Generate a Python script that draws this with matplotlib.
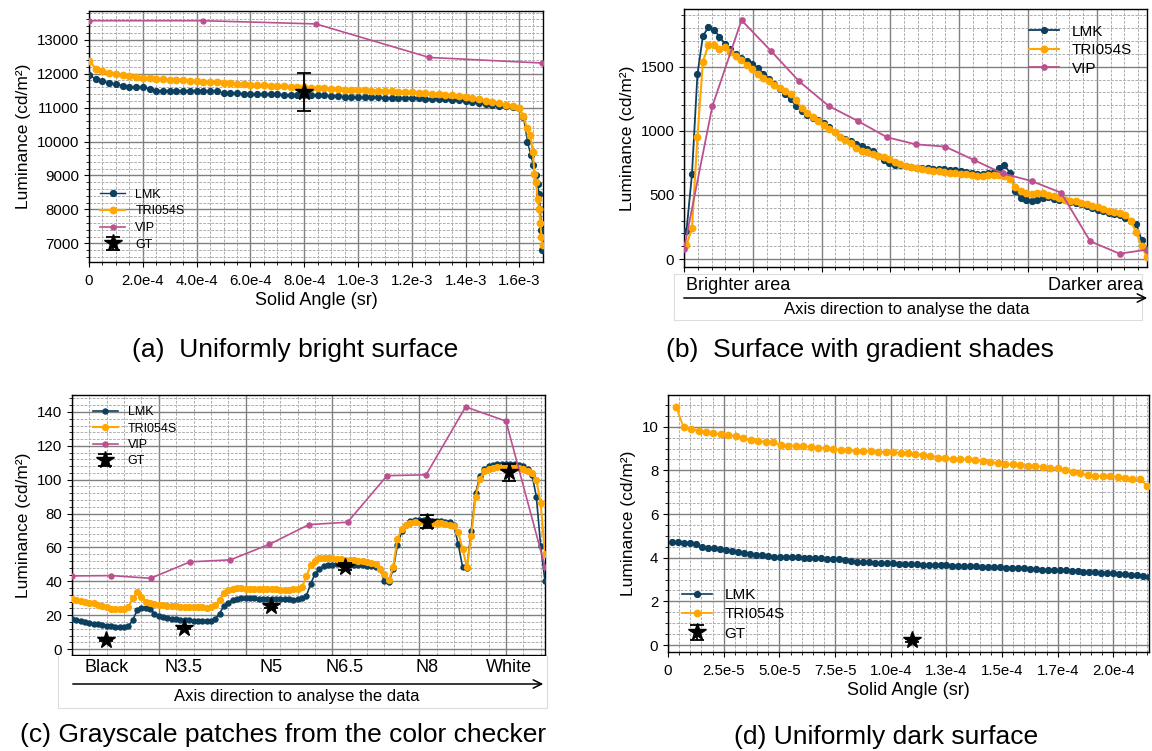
import numpy as np
import matplotlib
matplotlib.use("Agg")
import matplotlib.pyplot as plt
from matplotlib.ticker import MultipleLocator, AutoMinorLocator, NullFormatter
from matplotlib.transforms import blended_transform_factory

plt.rcParams["font.family"] = ["Liberation Sans", "DejaVu Sans"]

# Colours
C_LMK = "#0d3f5e"
C_TRI = "#ffa600"
C_VIP = "#bc5090"
C_GT = "black"

# ---------------- (a) uniformly bright surface (x in 1e-4 sr) ----------------
a_flat_x = np.linspace(0, 16, 65)
a_lmk_flat = [11950, 11850, 11780, 11720, 11700, 11650, 11600, 11600, 11600, 11560,
              11500, 11500, 11500, 11500, 11500, 11500, 11500, 11500, 11490, 11480,
              11430, 11420, 11420, 11410, 11400, 11400, 11400, 11390, 11390, 11380,
              11380, 11380, 11370, 11370, 11370, 11360, 11350, 11340, 11320, 11310,
              11300, 11300, 11300, 11300, 11290, 11290, 11280, 11280, 11270, 11270,
              11260, 11260, 11250, 11240, 11230, 11210, 11190, 11160, 11130, 11100,
              11080, 11060, 11040, 11020, 10980]
a_lmk_drop_x = [16.15, 16.3, 16.42, 16.52, 16.6, 16.68, 16.74, 16.78, 16.82, 16.85]
a_lmk_drop = [10720, 10000, 9600, 9300, 9000, 8750, 8450, 8000, 7400, 6800]
a_tri_flat = [12380, 12150, 12080, 12020, 11990, 11960, 11930, 11900, 11880, 11860,
              11850, 11840, 11820, 11810, 11800, 11790, 11770, 11760, 11750, 11740,
              11720, 11710, 11700, 11690, 11680, 11670, 11660, 11650, 11640, 11630,
              11620, 11610, 11600, 11590, 11580, 11570, 11560, 11545, 11530, 11520,
              11510, 11505, 11500, 11495, 11490, 11480, 11470, 11460, 11450, 11440,
              11420, 11410, 11400, 11380, 11360, 11340, 11310, 11280, 11240, 11200,
              11170, 11130, 11090, 11050, 10980]
a_tri_drop_x = [16.15, 16.28, 16.4, 16.5, 16.56, 16.62, 16.68, 16.74, 16.78, 16.82, 16.86]
a_tri_drop = [10750, 10400, 10200, 9700, 9050, 8800, 8300, 8000, 7600, 7200, 6950]
a_vip_x = [0, 4.24, 8.44, 12.65, 16.85]
a_vip = [13560, 13560, 13465, 12477, 12313]
a_gt_x = [8.0]
a_gt = [11450]
a_gt_err = [[550], [580]]
a_ticks = [0, 2, 4, 6, 8, 10, 12, 14, 16]
a_ticklabels = ["0", "2.0e-4", "4.0e-4", "6.0e-4", "8.0e-4", "1.0e-3", "1.2e-3", "1.4e-3", "1.6e-3"]

# ---------------- (b) gradient shades ----------------
b_x = np.linspace(0.7, 134.6, 85)
b_lmk = [217, 660, 1440, 1740, 1808, 1790, 1735, 1680, 1635, 1600,
         1570, 1543, 1518, 1490, 1447, 1408, 1368, 1328, 1290, 1245,
         1195, 1155, 1122, 1102, 1082, 1060, 1030, 990, 955, 936,
         921, 900, 880, 862, 840, 805, 770, 748, 737, 730,
         724, 717, 713, 710, 707, 705, 703, 700, 697, 692,
         686, 678, 668, 663, 665, 668, 680, 712, 730, 675,
         530, 475, 458, 451, 460, 477, 484, 471, 463, 458,
         446, 440, 427, 414, 400, 385, 375, 362, 354, 340,
         318, 295, 275, 150, 80]
b_tri = [110, 240, 950, 1540, 1670, 1667, 1640, 1655, 1617, 1585,
         1555, 1515, 1480, 1445, 1412, 1390, 1360, 1335, 1310, 1285,
         1240, 1175, 1140, 1105, 1075, 1042, 1015, 990, 955, 930,
         905, 865, 842, 835, 822, 805, 793, 780, 755, 740,
         725, 718, 710, 700, 692, 688, 685, 680, 672, 668,
         666, 662, 654, 646, 644, 652, 655, 652, 645, 625,
         560, 530, 518, 511, 513, 512, 502, 492, 478, 464,
         456, 449, 440, 428, 416, 403, 390, 378, 368, 362,
         345, 300, 210, 100, 15]
b_vip_x = [0, 8.2, 16.7, 25.2, 33.5, 42.0, 50.5, 59.0, 67.3, 75.9, 84.3, 92.6,
           101.1, 109.6, 118.1, 126.6, 134.6]
b_vip = [81, 1190, 1863, 1625, 1385, 1195, 1077, 950, 895, 877, 772, 668,
         608, 517, 138, 42, 73]

# ---------------- (c) grayscale patches ----------------
c_x = np.linspace(0, 109, 110)
c_lmk = [17.5, 17.0, 16.5, 16.0, 15.5, 15.0, 14.6, 14.2, 13.8, 13.4,
         13.0, 12.8, 12.8, 13.5, 17.0, 23.0, 24.2, 24.5, 23.8, 21.0,
         19.5, 19.0, 18.5, 18.0, 17.6, 17.3, 17.1, 17.0, 16.8, 16.7,
         16.6, 16.6, 16.8, 17.8, 21.0, 25.5, 27.5, 29.0, 29.6, 30.0,
         30.0, 30.0, 30.0, 29.8, 29.8, 29.7, 29.6, 29.6, 29.5, 29.4,
         29.3, 29.2, 29.3, 30.0, 31.5, 38.5, 44.5, 47.5, 48.8, 49.5,
         49.8, 50.0, 50.0, 50.0, 49.8, 49.7, 49.6, 49.5, 49.3, 49.0,
         48.5, 47.0, 40.0, 39.5, 47.0, 61.5, 69.5, 73.5, 75.5, 76.5,
         76.5, 76.3, 76.0, 75.8, 75.6, 75.4, 75.3, 74.8, 73.0, 62.0,
         48.5, 48.0, 70.0, 92.0, 102.0, 106.5, 108.0, 108.8, 109.2, 109.3,
         109.3, 109.2, 109.0, 108.8, 108.0, 106.5, 103.0, 90.0, 61.0, 40.0]
c_tri = [29.5, 29.0, 28.5, 28.0, 27.5, 27.0, 26.2, 25.5, 24.6, 23.8,
         23.5, 23.5, 23.7, 25.0, 30.0, 33.5, 31.0, 28.0, 27.0, 26.5,
         26.0, 25.8, 25.5, 25.3, 25.2, 25.1, 25.0, 25.0, 25.0, 24.8,
         24.6, 24.5, 25.0, 26.0, 29.0, 33.0, 35.0, 35.5, 35.8, 35.8,
         35.7, 35.6, 35.5, 35.5, 35.4, 35.3, 35.2, 35.2, 35.1, 35.0,
         35.0, 35.2, 35.5, 36.5, 43.0, 49.5, 52.0, 53.5, 54.0, 53.8,
         53.5, 53.3, 53.0, 52.8, 52.6, 52.5, 52.3, 52.0, 51.5, 51.0,
         50.0, 47.5, 44.5, 40.5, 48.5, 65.0, 71.0, 73.5, 74.5, 75.0,
         75.0, 75.0, 74.8, 74.7, 74.5, 74.3, 74.0, 73.5, 72.5, 69.0,
         59.0, 48.5, 67.0, 90.0, 100.5, 105.0, 106.5, 107.0, 107.3, 107.5,
         107.5, 107.5, 107.3, 107.0, 106.5, 105.0, 104.0, 100.0, 86.0, 56.0]
c_vip_x = [0, 9.1, 18.1, 27.2, 36.5, 45.5, 54.6, 63.5, 72.6, 81.6, 90.7, 100.0, 109.0]
c_vip = [43.2, 43.4, 41.8, 51.5, 52.7, 61.9, 73.5, 74.9, 102.4, 102.9, 143.0, 134.6, 48.7]
c_gt_x = [7.9, 25.7, 45.9, 62.8, 81.9, 100.8]
c_gt = [5.5, 12.4, 25.7, 48.7, 75.2, 104.5]
c_gt_err = [0.5, 0.8, 1.2, 2.0, 4.0, 5.0]
c_patches = ["Black", "N3.5", "N5", "N6.5", "N8", "White"]

# ---------------- (d) uniformly dark surface (x in 1e-5 sr) ----------------
d_lmk_x = np.linspace(0.2, 21.6, 81)
d_lmk = [4.71, 4.70, 4.68, 4.66, 4.65, 4.48, 4.45, 4.43, 4.40, 4.36,
         4.31, 4.27, 4.21, 4.16, 4.13, 4.11, 4.07, 4.05, 4.04, 4.03,
         4.02, 4.01, 4.00, 3.99, 3.98, 3.97, 3.96, 3.95, 3.94, 3.90,
         3.84, 3.82, 3.80, 3.78, 3.77, 3.76, 3.75, 3.74, 3.73, 3.72,
         3.71, 3.69, 3.68, 3.67, 3.66, 3.65, 3.65, 3.64, 3.63, 3.62,
         3.61, 3.60, 3.59, 3.58, 3.57, 3.56, 3.55, 3.54, 3.53, 3.52,
         3.50, 3.48, 3.45, 3.44, 3.43, 3.43, 3.42, 3.41, 3.38, 3.36,
         3.35, 3.34, 3.32, 3.31, 3.29, 3.27, 3.25, 3.22, 3.19, 3.16, 3.12]
d_tri_x = np.linspace(0.36, 21.53, 64)
d_tri = [10.92, 9.97, 9.89, 9.82, 9.74, 9.69, 9.65, 9.60, 9.57, 9.46,
         9.37, 9.34, 9.31, 9.28, 9.16, 9.13, 9.13, 9.11, 9.08, 9.04,
         9.01, 8.98, 8.93, 8.91, 8.90, 8.90, 8.88, 8.85, 8.84, 8.82,
         8.81, 8.79, 8.75, 8.70, 8.65, 8.58, 8.55, 8.53, 8.52, 8.50,
         8.47, 8.43, 8.39, 8.32, 8.29, 8.27, 8.24, 8.21, 8.20, 8.17,
         8.13, 8.09, 8.01, 7.94, 7.86, 7.78, 7.74, 7.72, 7.72, 7.69,
         7.63, 7.60, 7.60, 7.28]
d_gt_x = [10.95]
d_gt = [0.21]
d_gt_err = [0.05]
d_ticks = [0, 2.5, 5.0, 7.5, 10.0, 12.5, 15.0, 17.5, 20.0]
d_ticklabels = ["0", "2.5e-5", "5.0e-5", "7.5e-5", "1.0e-4", "1.3e-4", "1.5e-4", "1.7e-4", "2.0e-4"]

TICK_FS = 10.8
LAB_FS = 12.5
CAP_FS = 19


def style_axes(ax, xmaj, xmin_n, ymaj, ymin_n):
    ax.xaxis.set_major_locator(MultipleLocator(xmaj))
    ax.xaxis.set_minor_locator(AutoMinorLocator(xmin_n))
    ax.yaxis.set_major_locator(MultipleLocator(ymaj))
    ax.yaxis.set_minor_locator(AutoMinorLocator(ymin_n))
    ax.grid(which="major", color="#808080", lw=1.0, ls="-")
    ax.grid(which="minor", color="#a8a8a8", lw=0.65, ls=(0, (3, 1.5)))
    ax.set_axisbelow(True)
    ax.tick_params(labelsize=TICK_FS)
    ax.tick_params(axis="x", pad=5)
    for s in ax.spines.values():
        s.set_linewidth(1.0)


def series(ax, x, y, color, ms, lw, label, z):
    ax.plot(x, y, color=color, marker="o", ms=ms, lw=lw, label=label, zorder=z)


fig = plt.figure(figsize=(11.52, 7.51), dpi=100)

# ---- (a) ----
ax = fig.add_axes([0.0773, 0.6511, 0.3941, 0.3349])
series(ax, np.r_[a_flat_x, a_lmk_drop_x] * 1e-4, a_lmk_flat + a_lmk_drop, C_LMK, 4.2, 1.0, "LMK", 3)
series(ax, np.r_[a_flat_x, a_tri_drop_x] * 1e-4, a_tri_flat + a_tri_drop, C_TRI, 4.6, 1.5, "TRI054S", 4)
series(ax, np.array(a_vip_x) * 1e-4, a_vip, C_VIP, 3.5, 1.2, "VIP", 5)
ax.errorbar(np.array(a_gt_x) * 1e-4, a_gt, yerr=a_gt_err, fmt="*", color=C_GT, ms=13,
            capsize=5, elinewidth=1.3, capthick=1.3, label="GT", zorder=6)
ax.set_xlim(0, 1.688e-3)
ax.set_ylim(6450, 13860)
style_axes(ax, 2e-4, 4, 1000, 5)
ax.set_xticks(np.array(a_ticks) * 1e-4)
ax.set_xticklabels(a_ticklabels)
ax.set_xlabel("Solid Angle (sr)", fontsize=13, labelpad=3)
ax.set_ylabel("Luminance (cd/m²)", fontsize=LAB_FS)
ax.legend(loc="lower left", bbox_to_anchor=(0.0, 0.0), frameon=False, fontsize=9,
          handlelength=2.0, labelspacing=0.38)

# ---- (b) ----
ax = fig.add_axes([0.5938, 0.6445, 0.4019, 0.3431])
series(ax, b_x, b_lmk, C_LMK, 4.2, 1.3, "LMK", 3)
series(ax, b_x, b_tri, C_TRI, 4.6, 1.5, "TRI054S", 4)
series(ax, b_vip_x, b_vip, C_VIP, 3.8, 1.3, "VIP", 5)
ax.set_xlim(0, 134.6)
ax.set_ylim(-62, 1948)
style_axes(ax, 20, 5, 500, 5)
ax.xaxis.set_major_formatter(NullFormatter())
ax.set_ylabel("Luminance (cd/m²)", fontsize=LAB_FS)
ax.legend(loc="upper right", frameon=False, fontsize=11, handlelength=2.0,
          labelspacing=0.3, borderaxespad=0.6)

# box under (b)
bx = fig.add_axes([674 / 1152, 1 - 320 / 751, (1142 - 674) / 1152, (320 - 274) / 751])
bx.set_xticks([])
bx.set_yticks([])
for s in bx.spines.values():
    s.set_color("#dddddd")
    s.set_linewidth(0.8)
fig.text(686 / 1152, 1 - 285 / 751, "Brighter area", fontsize=13, ha="left", va="center")
fig.text(1143 / 1152, 1 - 285 / 751, "Darker area", fontsize=13, ha="right", va="center")
fig.text(907 / 1152, 1 - 310 / 751, "Axis direction to analyse the data", fontsize=12,
         ha="center", va="center")
fig.add_artist(matplotlib.patches.FancyArrowPatch(
    (681 / 1152, 1 - 298 / 751), (1150 / 1152, 1 - 298 / 751), transform=fig.transFigure,
    arrowstyle="->,head_length=6,head_width=3", lw=1.1, color="black"))

# ---- (c) ----
ax = fig.add_axes([0.0625, 0.1278, 0.4106, 0.3462])
series(ax, c_x, c_lmk, C_LMK, 3.6, 1.2, "LMK", 3)
series(ax, c_x, c_tri, C_TRI, 4.2, 1.5, "TRI054S", 4)
series(ax, c_vip_x, c_vip, C_VIP, 3.6, 1.2, "VIP", 5)
ax.errorbar(c_gt_x, c_gt, yerr=c_gt_err, fmt="*", color=C_GT, ms=13, capsize=5,
            elinewidth=1.3, capthick=1.3, label="GT", zorder=6)
ax.set_xlim(0, 109)
ax.set_ylim(-3.5, 150)
style_axes(ax, 20, 5, 20, 5)
ax.xaxis.set_major_formatter(NullFormatter())
ax.set_ylabel("Luminance (cd/m²)", fontsize=LAB_FS)
ax.legend(loc="upper left", bbox_to_anchor=(0.02, 1.0), frameon=False, fontsize=9,
          handlelength=2.0, labelspacing=0.35)

cx = fig.add_axes([58 / 1152, 1 - 708 / 751, (547 - 58) / 1152, (708 - 656) / 751])
cx.set_xticks([])
cx.set_yticks([])
for s in cx.spines.values():
    s.set_color("#dddddd")
    s.set_linewidth(0.8)
cx.spines["top"].set_visible(False)
tr = blended_transform_factory(ax.transData, fig.transFigure)
for px, name in zip(c_gt_x, c_patches):
    fig.text(px, 1 - 667 / 751, name, transform=tr, fontsize=13, ha="center", va="center")
fig.text(297 / 1152, 1 - 696 / 751, "Axis direction to analyse the data", fontsize=12,
         ha="center", va="center")
fig.add_artist(matplotlib.patches.FancyArrowPatch(
    (70 / 1152, 1 - 684 / 751), (546 / 1152, 1 - 684 / 751), transform=fig.transFigure,
    arrowstyle="->,head_length=6,head_width=3", lw=1.1, color="black"))

# ---- (d) ----
ax = fig.add_axes([0.5799, 0.1318, 0.4175, 0.3422])
series(ax, d_lmk_x * 1e-5, d_lmk, C_LMK, 4.2, 1.2, "LMK", 3)
series(ax, d_tri_x * 1e-5, d_tri, C_TRI, 4.6, 1.3, "TRI054S", 4)
ax.errorbar(np.array(d_gt_x) * 1e-5, d_gt, yerr=d_gt_err, fmt="*", color=C_GT, ms=13,
            capsize=5, elinewidth=1.3, capthick=1.3, label="GT", zorder=6)
ax.set_xlim(0, 2.16e-4)
ax.set_ylim(-0.32, 11.45)
style_axes(ax, 2.5e-5, 5, 2, 4)
ax.set_xticks(np.array(d_ticks) * 1e-5)
ax.set_xticklabels(d_ticklabels)
ax.set_xlabel("Solid Angle (sr)", fontsize=13, labelpad=3)
ax.set_ylabel("Luminance (cd/m²)", fontsize=LAB_FS)
ax.legend(loc="lower left", bbox_to_anchor=(0.0, -0.01), frameon=False, fontsize=11,
          handlelength=2.0, labelspacing=0.35)

# captions
fig.text(295 / 1152, 1 - 350 / 751, "(a)  Uniformly bright surface", fontsize=CAP_FS,
         ha="center", va="center")
fig.text(860 / 1152, 1 - 350 / 751, "(b)  Surface with gradient shades", fontsize=CAP_FS,
         ha="center", va="center")
fig.text(283 / 1152, 1 - 735 / 751, "(c) Grayscale patches from the color checker",
         fontsize=CAP_FS, ha="center", va="center")
fig.text(886 / 1152, 1 - 737 / 751, "(d) Uniformly dark surface", fontsize=CAP_FS,
         ha="center", va="center")

fig.savefig("out.png", dpi=100)
